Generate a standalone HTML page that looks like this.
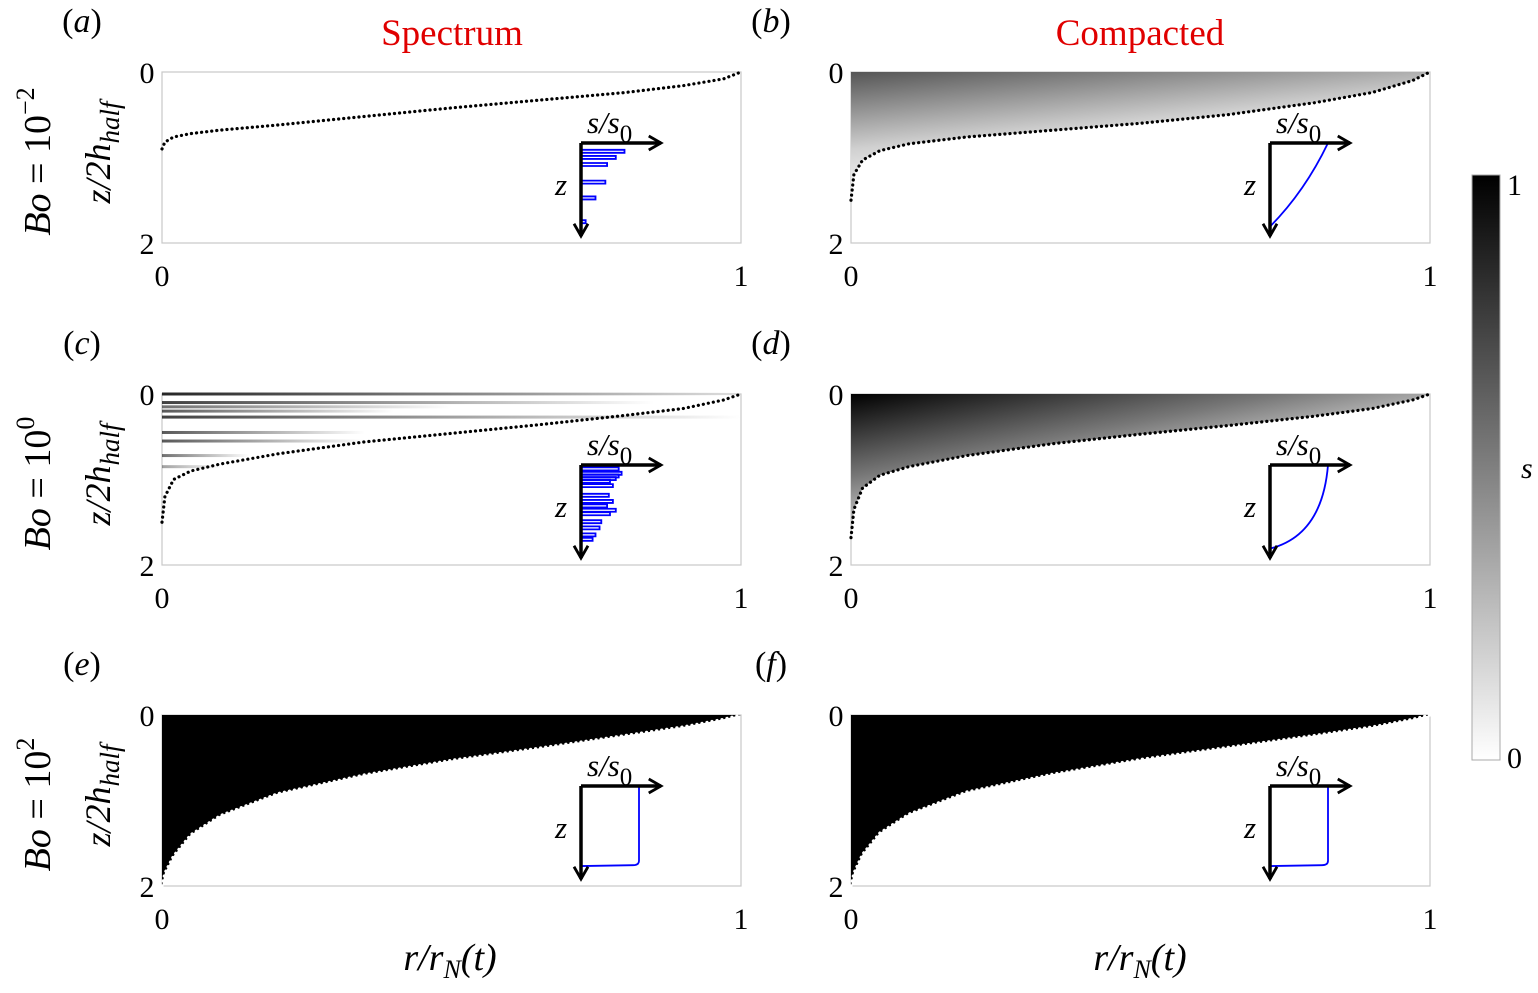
<!DOCTYPE html>
<html><head><meta charset="utf-8"><style>
body{margin:0;background:#fff;width:1538px;height:993px;overflow:hidden}
svg{display:block;font-family:"Liberation Serif",serif}
</style></head><body>
<svg id="fig" width="1538" height="993" viewBox="0 0 1538 993">
<defs>
<linearGradient id="gb" x1="0" y1="0" x2="0.45" y2="1"><stop offset="0" stop-color="#555"/><stop offset="0.5" stop-color="#d0d0d0"/><stop offset="0.85" stop-color="#fff"/></linearGradient>
<linearGradient id="gd" x1="0" y1="0" x2="0.7" y2="0.9"><stop offset="0" stop-color="#000"/><stop offset="0.4" stop-color="#777"/><stop offset="0.8" stop-color="#fff"/></linearGradient>
<linearGradient id="gs" x1="0" y1="0" x2="1" y2="0"><stop offset="0" stop-color="#111"/><stop offset="1" stop-color="#111" stop-opacity="0"/></linearGradient>
<linearGradient id="gcb" x1="0" y1="0" x2="0" y2="1"><stop offset="0" stop-color="#000"/><stop offset="1" stop-color="#fff"/></linearGradient>
<marker id="ar" viewBox="0 0 10 10" refX="8" refY="5" markerWidth="5" markerHeight="5" orient="auto"><path d="M1,1 L8,5 L1,9" fill="none" stroke="#000" stroke-width="1.6"/></marker>
</defs>
<text x="452" y="45" font-size="37" fill="#e00000" text-anchor="middle">Spectrum</text>
<text x="1140" y="45" font-size="37" fill="#e00000" text-anchor="middle">Compacted</text>
<g id="panels"></g>
<g>
<rect x="1472" y="175" width="28" height="585" fill="url(#gcb)" stroke="#aaa" stroke-width="1"/>
<text x="1507" y="195" font-size="30">1</text>
<text x="1507" y="768" font-size="30">0</text>
<text x="1521" y="478" font-size="30" font-style="italic">s</text>
</g>
<text x="450" y="970" font-size="38" text-anchor="middle" font-style="italic">r/r<tspan font-size="26" dy="8">N</tspan><tspan dy="-8">(t)</tspan></text>
<text x="1140" y="970" font-size="38" text-anchor="middle" font-style="italic">r/r<tspan font-size="26" dy="8">N</tspan><tspan dy="-8">(t)</tspan></text>
</svg>
<script>
// boundary curves (r, z/2h)
const rPts=[0,0.005,0.02,0.05,0.1,0.2,0.35,0.5,0.65,0.8,0.9,0.97,1];
const zA=[0.9,0.82,0.76,0.72,0.68,0.62,0.52,0.42,0.33,0.24,0.16,0.08,0];
const zB=[1.5,1.2,1.03,0.92,0.84,0.76,0.68,0.6,0.5,0.36,0.24,0.1,0];
const zC=[1.5,1.2,1.0,0.9,0.82,0.7,0.56,0.46,0.36,0.25,0.17,0.07,0];
const zD=[1.68,1.35,1.1,0.95,0.85,0.72,0.58,0.47,0.37,0.26,0.17,0.07,0];
const zE=[2.0,1.85,1.65,1.4,1.18,0.92,0.7,0.53,0.39,0.24,0.14,0.05,0];
const zF=[2.0,1.85,1.63,1.38,1.16,0.9,0.69,0.52,0.38,0.24,0.14,0.05,0];
// stripes in panel (c): depth z, extent r, opacity
const stripeZ=[0.0,0.1,0.15,0.2,0.27,0.45,0.55,0.72,0.85];
const stripeR=[1.0,0.85,0.5,0.4,1.0,0.35,0.35,0.15,0.1];
const stripeO=[0.9,0.8,0.6,0.7,0.8,0.7,0.7,0.6,0.4];
// inset profiles: step widths s/s0 (0..1) at depth z (0..1 of inset)
const stepZa=[0.1,0.17,0.25,0.45,0.63,0.9];
const stepSa=[0.75,0.6,0.45,0.42,0.25,0.08];
const stepZc=[0.05,0.1,0.13,0.16,0.19,0.24,0.35,0.42,0.47,0.52,0.56,0.65,0.72,0.8,0.85];
const stepSc=[0.65,0.7,0.65,0.6,0.5,0.55,0.48,0.55,0.45,0.6,0.5,0.35,0.32,0.25,0.2];

const NS="http://www.w3.org/2000/svg";
const G=document.getElementById('panels');
function mk(t,a,p){const e=document.createElementNS(NS,t);for(const k in a)e.setAttribute(k,a[k]);(p||G).appendChild(e);return e;}
const panels=[
{l:'a',x0:162,y0:72,z:zA,fill:null,inset:'a',bo:'−2'},
{l:'b',x0:851,y0:72,z:zB,fill:'url(#gb)',inset:'b'},
{l:'c',x0:162,y0:394,z:zC,fill:null,stripes:true,inset:'c',bo:'0'},
{l:'d',x0:851,y0:394,z:zD,fill:'url(#gd)',inset:'d'},
{l:'e',x0:162,y0:715,z:zE,fill:'#000',inset:'e',bo:'2'},
{l:'f',x0:851,y0:715,z:zF,fill:'#000',inset:'f'}];
const W=579,H=171;
panels.forEach((p,i)=>{
  const g=mk('g',{});
  
  
  const xs=r=>p.x0+r*W, ys=z=>p.y0+z*H/2;
  mk('rect',{x:p.x0,y:p.y0,width:W,height:H,fill:'#fff',stroke:'#c8c8c8','stroke-width':1.2},g);
  let pts=rPts.map((r,k)=>xs(r)+','+ys(p.z[k]));
  if(p.fill){
    const pa=mk('path',{d:'M'+p.x0+','+p.y0+' L'+pts.join(' L')+' Z',fill:p.fill},g);
    
    
  }
  if(p.stripes){
    stripeZ.forEach((z,k)=>{
      const s=mk('rect',{x:p.x0,y:ys(z)-1.5,width:stripeR[k]*W,height:3,fill:'url(#gs)',opacity:stripeO[k]},g);
      
      
    });
  }
  const dl=mk('polyline',{points:pts.join(' '),fill:'none',stroke:(p.fill==='#000')?'#fff':'#000','stroke-width':3.2,'stroke-dasharray':'0.1 5','stroke-linecap':'round'},g);
  
  
  const tk=[['0',p.x0-15,p.y0+11],['2',p.x0-15,p.y0+H+11],['0',p.x0,p.y0+H+43],['1',p.x0+W,p.y0+H+43]];
  tk.forEach(t=>{const e=mk('text',{x:t[1],y:t[2],'font-size':30,'text-anchor':'middle'},g);e.textContent=t[0];});
  const lb=mk('text',{x:p.x0-80,y:p.y0-40,'font-size':34,'text-anchor':'middle'},g);
  lb.innerHTML='(<tspan font-style="italic">'+p.l+'</tspan>)';
  
  if(p.bo){
    const cy=p.y0+H/2;
    const t1=mk('text',{x:0,y:0,'font-size':38,'text-anchor':'middle',transform:`translate(50,${cy+4}) rotate(-90)`},g);
    t1.innerHTML='<tspan font-style="italic">Bo</tspan> = 10<tspan font-size="26" dy="-16">'+p.bo+'</tspan>';
    
    const t2=mk('text',{x:0,y:0,'font-size':36,'font-style':'italic','text-anchor':'middle',transform:`translate(110,${cy-5}) rotate(-90)`},g);
    t2.innerHTML='z/2h<tspan font-size="27" dy="9">half</tspan>';
    
  }
  const ox=p.x0+419, oy=p.y0+71, iw=58, ih=88;
  const ins=mk('g',{},g);
  
  
  let d='';
  if(p.inset==='a'||p.inset==='c'){
    const zz=p.inset==='a'?stepZa:stepZc, ss=p.inset==='a'?stepSa:stepSc;
    d='M'+ox+','+oy;
    zz.forEach((z,k)=>{const y=oy+z*ih;d+=` L${ox},${y-2} L${ox+ss[k]*iw},${y-2} L${ox+ss[k]*iw},${y+1} L${ox},${y+1}`;});
    d+=` L${ox},${oy+ih}`;
  } else if(p.inset==='b'){
    d=`M${ox},${oy+ih*0.95} Q${ox+iw*0.6},${oy+ih*0.55} ${ox+iw},${oy}`;
  } else if(p.inset==='d'){
    d=`M${ox},${oy+ih*0.95} Q${ox+iw*0.9},${oy+ih*0.8} ${ox+iw},${oy}`;
  } else {
    d=`M${ox+iw},${oy} L${ox+iw},${oy+ih*0.85} Q${ox+iw},${oy+ih*0.9} ${ox+iw-6},${oy+ih*0.9} L${ox},${oy+ih*0.91}`;
  }
  mk('path',{d:d,fill:'none',stroke:'#0000ff','stroke-width':1.8},ins);
  mk('line',{x1:ox,y1:oy,x2:ox+80,y2:oy,stroke:'#000','stroke-width':3.5,'marker-end':'url(#ar)'},ins);
  mk('line',{x1:ox,y1:oy,x2:ox,y2:oy+93,stroke:'#000','stroke-width':3.5,'marker-end':'url(#ar)'},ins);
  const s1=mk('text',{x:ox+6,y:oy-10,'font-size':31,'font-style':'italic'},ins);
  s1.innerHTML='s/s<tspan font-size="25" dy="9" font-style="normal">0</tspan>';
  const s2=mk('text',{x:ox-26,y:oy+52,'font-size':31,'font-style':'italic'},ins);
  s2.textContent='z';
});
</script>
</body></html>
